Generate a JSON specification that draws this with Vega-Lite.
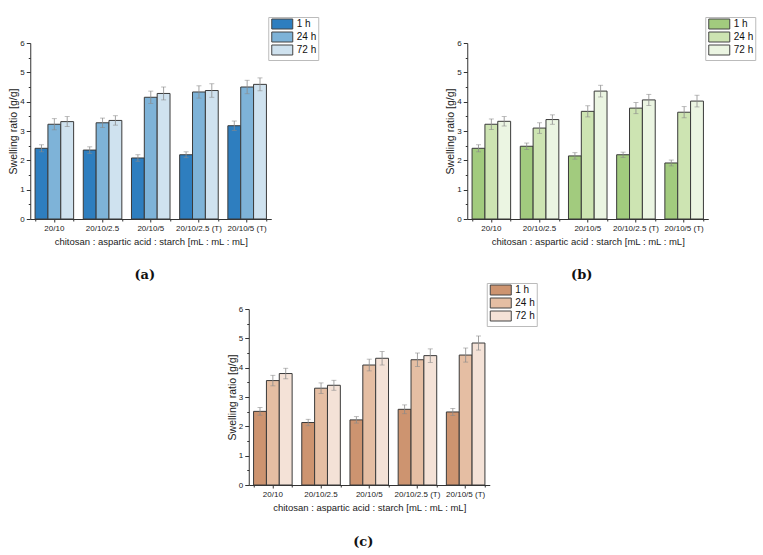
{
  "$schema": "https://vega.github.io/schema/vega-lite/v6.json",
  "padding": {"left": 8, "top": 16, "right": 5, "bottom": 5},
  "datasets": {
    "a": [
      {"ratio": "20/10", "time": "1 h", "value": 2.41, "lo": 2.29, "hi": 2.53},
      {"ratio": "20/10", "time": "24 h", "value": 3.23, "lo": 3.04, "hi": 3.42},
      {"ratio": "20/10", "time": "72 h", "value": 3.32, "lo": 3.15, "hi": 3.49},
      {"ratio": "20/10/2.5", "time": "1 h", "value": 2.35, "lo": 2.24, "hi": 2.46},
      {"ratio": "20/10/2.5", "time": "24 h", "value": 3.28, "lo": 3.12, "hi": 3.44},
      {"ratio": "20/10/2.5", "time": "72 h", "value": 3.36, "lo": 3.2, "hi": 3.52},
      {"ratio": "20/10/5", "time": "1 h", "value": 2.08, "lo": 1.97, "hi": 2.19},
      {"ratio": "20/10/5", "time": "24 h", "value": 4.15, "lo": 3.94, "hi": 4.36},
      {"ratio": "20/10/5", "time": "72 h", "value": 4.28, "lo": 4.06, "hi": 4.5},
      {"ratio": "20/10/2.5 (T)", "time": "1 h", "value": 2.19, "lo": 2.09, "hi": 2.29},
      {"ratio": "20/10/2.5 (T)", "time": "24 h", "value": 4.33, "lo": 4.12, "hi": 4.54},
      {"ratio": "20/10/2.5 (T)", "time": "72 h", "value": 4.38, "lo": 4.15, "hi": 4.61},
      {"ratio": "20/10/5 (T)", "time": "1 h", "value": 3.18, "lo": 3.02, "hi": 3.34},
      {"ratio": "20/10/5 (T)", "time": "24 h", "value": 4.5, "lo": 4.27, "hi": 4.73},
      {"ratio": "20/10/5 (T)", "time": "72 h", "value": 4.59, "lo": 4.37, "hi": 4.81}
    ],
    "b": [
      {"ratio": "20/10", "time": "1 h", "value": 2.41, "lo": 2.29, "hi": 2.53},
      {"ratio": "20/10", "time": "24 h", "value": 3.23, "lo": 3.05, "hi": 3.41},
      {"ratio": "20/10", "time": "72 h", "value": 3.33, "lo": 3.17, "hi": 3.49},
      {"ratio": "20/10/2.5", "time": "1 h", "value": 2.48, "lo": 2.37, "hi": 2.59},
      {"ratio": "20/10/2.5", "time": "24 h", "value": 3.1, "lo": 2.92, "hi": 3.28},
      {"ratio": "20/10/2.5", "time": "72 h", "value": 3.39, "lo": 3.23, "hi": 3.55},
      {"ratio": "20/10/5", "time": "1 h", "value": 2.15, "lo": 2.04, "hi": 2.26},
      {"ratio": "20/10/5", "time": "24 h", "value": 3.67, "lo": 3.48, "hi": 3.86},
      {"ratio": "20/10/5", "time": "72 h", "value": 4.36, "lo": 4.16, "hi": 4.56},
      {"ratio": "20/10/2.5 (T)", "time": "1 h", "value": 2.19, "lo": 2.1, "hi": 2.28},
      {"ratio": "20/10/2.5 (T)", "time": "24 h", "value": 3.78, "lo": 3.59, "hi": 3.97},
      {"ratio": "20/10/2.5 (T)", "time": "72 h", "value": 4.06, "lo": 3.87, "hi": 4.25},
      {"ratio": "20/10/5 (T)", "time": "1 h", "value": 1.91, "lo": 1.81, "hi": 2.01},
      {"ratio": "20/10/5 (T)", "time": "24 h", "value": 3.64, "lo": 3.45, "hi": 3.83},
      {"ratio": "20/10/5 (T)", "time": "72 h", "value": 4.02, "lo": 3.82, "hi": 4.22}
    ],
    "c": [
      {"ratio": "20/10", "time": "1 h", "value": 2.51, "lo": 2.38, "hi": 2.64},
      {"ratio": "20/10", "time": "24 h", "value": 3.56, "lo": 3.38, "hi": 3.74},
      {"ratio": "20/10", "time": "72 h", "value": 3.8, "lo": 3.62, "hi": 3.98},
      {"ratio": "20/10/2.5", "time": "1 h", "value": 2.13, "lo": 2.02, "hi": 2.24},
      {"ratio": "20/10/2.5", "time": "24 h", "value": 3.3, "lo": 3.12, "hi": 3.48},
      {"ratio": "20/10/2.5", "time": "72 h", "value": 3.4, "lo": 3.23, "hi": 3.57},
      {"ratio": "20/10/5", "time": "1 h", "value": 2.22, "lo": 2.11, "hi": 2.33},
      {"ratio": "20/10/5", "time": "24 h", "value": 4.09, "lo": 3.89, "hi": 4.29},
      {"ratio": "20/10/5", "time": "72 h", "value": 4.32, "lo": 4.09, "hi": 4.55},
      {"ratio": "20/10/2.5 (T)", "time": "1 h", "value": 2.58, "lo": 2.43, "hi": 2.73},
      {"ratio": "20/10/2.5 (T)", "time": "24 h", "value": 4.27, "lo": 4.04, "hi": 4.5},
      {"ratio": "20/10/2.5 (T)", "time": "72 h", "value": 4.41, "lo": 4.18, "hi": 4.64},
      {"ratio": "20/10/5 (T)", "time": "1 h", "value": 2.49, "lo": 2.37, "hi": 2.61},
      {"ratio": "20/10/5 (T)", "time": "24 h", "value": 4.43, "lo": 4.19, "hi": 4.67},
      {"ratio": "20/10/5 (T)", "time": "72 h", "value": 4.84, "lo": 4.6, "hi": 5.08}
    ]
  },
  "vconcat": [
    {
      "hconcat": [
        {
          "width": 241, "height": 176,
          "data": {"name": "a"},
          "title": {"text": "(a)", "orient": "bottom", "font": "DejaVu Serif", "fontSize": 13, "fontWeight": "bold", "color": "#111", "dx": -6, "offset": 23},
          "layer": [
            {"mark": {"type": "bar", "stroke": "#3a3a3a", "strokeWidth": 1},
             "encoding": {
               "x": {"field": "ratio", "type": "nominal", "sort": null, "scale": {"paddingInner": 0.2, "paddingOuter": 0.1}, "title": "chitosan : aspartic acid : starch [mL : mL : mL]", "axis": {"orient": "bottom", "labelAngle": 0, "tickSize": 3, "labelPadding": 2, "titlePadding": 4}},
               "xOffset": {"field": "time", "type": "nominal", "sort": null, "scale": {"paddingInner": 0, "paddingOuter": 0}},
               "y": {"field": "value", "type": "quantitative", "scale": {"domain": [0, 6]}, "title": "Swelling ratio [g/g]", "axis": {"orient": "left", "values": [0, 1, 2, 3, 4, 5, 6], "tickSize": 4, "labelPadding": 2, "titlePadding": 1, "titleFontSize": 10.5}},
               "color": {"field": "time", "type": "nominal", "sort": null, "scale": {"domain": ["1 h", "24 h", "72 h"], "range": ["#2e7ebf", "#7eb3d8", "#cfe2ef"]}, "legend": {"orient": "none", "legendX": 238, "legendY": -26, "title": null}}
             }},
            {"mark": {"type": "rule", "color": "#8a8a8a", "strokeWidth": 0.8},
             "encoding": {
               "x": {"field": "ratio", "type": "nominal", "sort": null, "axis": {"orient": "bottom", "tickBand": "extent", "labels": false, "title": null, "domain": false, "tickSize": 2}},
               "xOffset": {"field": "time", "type": "nominal", "sort": null},
               "y": {"field": "lo", "type": "quantitative", "axis": {"orient": "left", "values": [0.5, 1.5, 2.5, 3.5, 4.5, 5.5], "labels": false, "title": null, "domain": false, "tickSize": 2}},
               "y2": {"field": "hi"}
             }},
            {"mark": {"type": "tick", "color": "#8a8a8a", "thickness": 0.8, "size": 5, "orient": "horizontal"},
             "encoding": {
               "x": {"field": "ratio", "type": "nominal", "sort": null, "axis": null},
               "xOffset": {"field": "time", "type": "nominal", "sort": null},
               "y": {"field": "lo", "type": "quantitative", "axis": null}
             }},
            {"mark": {"type": "tick", "color": "#8a8a8a", "thickness": 0.8, "size": 5, "orient": "horizontal"},
             "encoding": {
               "x": {"field": "ratio", "type": "nominal", "sort": null, "axis": null},
               "xOffset": {"field": "time", "type": "nominal", "sort": null},
               "y": {"field": "hi", "type": "quantitative", "axis": null}
             }}
          ],
          "resolve": {"axis": {"x": "independent", "y": "independent"}}
        },
        {
          "width": 241, "height": 176,
          "data": {"name": "b"},
          "title": {"text": "(b)", "orient": "bottom", "font": "DejaVu Serif", "fontSize": 13, "fontWeight": "bold", "color": "#111", "dx": -6, "offset": 23},
          "layer": [
            {"mark": {"type": "bar", "stroke": "#3a3a3a", "strokeWidth": 1},
             "encoding": {
               "x": {"field": "ratio", "type": "nominal", "sort": null, "scale": {"paddingInner": 0.2, "paddingOuter": 0.1}, "title": "chitosan : aspartic acid : starch [mL : mL : mL]", "axis": {"orient": "bottom", "labelAngle": 0, "tickSize": 3, "labelPadding": 2, "titlePadding": 4}},
               "xOffset": {"field": "time", "type": "nominal", "sort": null, "scale": {"paddingInner": 0, "paddingOuter": 0}},
               "y": {"field": "value", "type": "quantitative", "scale": {"domain": [0, 6]}, "title": "Swelling ratio [g/g]", "axis": {"orient": "left", "values": [0, 1, 2, 3, 4, 5, 6], "tickSize": 4, "labelPadding": 2, "titlePadding": 1, "titleFontSize": 10.5}},
               "color": {"field": "time", "type": "nominal", "sort": null, "scale": {"domain": ["1 h", "24 h", "72 h"], "range": ["#a2cb7e", "#cde4b2", "#ebf5e2"]}, "legend": {"orient": "none", "legendX": 238, "legendY": -26, "title": null}}
             }},
            {"mark": {"type": "rule", "color": "#8a8a8a", "strokeWidth": 0.8},
             "encoding": {
               "x": {"field": "ratio", "type": "nominal", "sort": null, "axis": {"orient": "bottom", "tickBand": "extent", "labels": false, "title": null, "domain": false, "tickSize": 2}},
               "xOffset": {"field": "time", "type": "nominal", "sort": null},
               "y": {"field": "lo", "type": "quantitative", "axis": {"orient": "left", "values": [0.5, 1.5, 2.5, 3.5, 4.5, 5.5], "labels": false, "title": null, "domain": false, "tickSize": 2}},
               "y2": {"field": "hi"}
             }},
            {"mark": {"type": "tick", "color": "#8a8a8a", "thickness": 0.8, "size": 5, "orient": "horizontal"},
             "encoding": {
               "x": {"field": "ratio", "type": "nominal", "sort": null, "axis": null},
               "xOffset": {"field": "time", "type": "nominal", "sort": null},
               "y": {"field": "lo", "type": "quantitative", "axis": null}
             }},
            {"mark": {"type": "tick", "color": "#8a8a8a", "thickness": 0.8, "size": 5, "orient": "horizontal"},
             "encoding": {
               "x": {"field": "ratio", "type": "nominal", "sort": null, "axis": null},
               "xOffset": {"field": "time", "type": "nominal", "sort": null},
               "y": {"field": "hi", "type": "quantitative", "axis": null}
             }}
          ],
          "resolve": {"axis": {"x": "independent", "y": "independent"}}
        }
      ],
      "spacing": 196,
      "bounds": "flush",
      "resolve": {"scale": {"color": "independent"}, "legend": {"color": "independent"}}
    },
    {
      "width": 241, "height": 176,
      "data": {"name": "c"},
      "title": {"text": "(c)", "orient": "bottom", "font": "DejaVu Serif", "fontSize": 13, "fontWeight": "bold", "color": "#111", "dx": -6, "offset": 24},
      "layer": [
        {"mark": {"type": "bar", "stroke": "#3a3a3a", "strokeWidth": 1},
         "encoding": {
           "x": {"field": "ratio", "type": "nominal", "sort": null, "scale": {"paddingInner": 0.2, "paddingOuter": 0.1}, "title": "chitosan : aspartic acid : starch [mL : mL : mL]", "axis": {"orient": "bottom", "labelAngle": 0, "tickSize": 3, "labelPadding": 2, "titlePadding": 4}},
           "xOffset": {"field": "time", "type": "nominal", "sort": null, "scale": {"paddingInner": 0, "paddingOuter": 0}},
           "y": {"field": "value", "type": "quantitative", "scale": {"domain": [0, 6]}, "title": "Swelling ratio [g/g]", "axis": {"orient": "left", "values": [0, 1, 2, 3, 4, 5, 6], "tickSize": 4, "labelPadding": 2, "titlePadding": 1, "titleFontSize": 10.5}},
           "color": {"field": "time", "type": "nominal", "sort": null, "scale": {"domain": ["1 h", "24 h", "72 h"], "range": ["#cd9470", "#e5bea3", "#f4e2d7"]}, "legend": {"orient": "none", "legendX": 238, "legendY": -26, "title": null}}
         }},
        {"mark": {"type": "rule", "color": "#8a8a8a", "strokeWidth": 0.8},
         "encoding": {
           "x": {"field": "ratio", "type": "nominal", "sort": null, "axis": {"orient": "bottom", "tickBand": "extent", "labels": false, "title": null, "domain": false, "tickSize": 2}},
           "xOffset": {"field": "time", "type": "nominal", "sort": null},
           "y": {"field": "lo", "type": "quantitative", "axis": {"orient": "left", "values": [0.5, 1.5, 2.5, 3.5, 4.5, 5.5], "labels": false, "title": null, "domain": false, "tickSize": 2}},
           "y2": {"field": "hi"}
         }},
        {"mark": {"type": "tick", "color": "#8a8a8a", "thickness": 0.8, "size": 5, "orient": "horizontal"},
         "encoding": {
           "x": {"field": "ratio", "type": "nominal", "sort": null, "axis": null},
           "xOffset": {"field": "time", "type": "nominal", "sort": null},
           "y": {"field": "lo", "type": "quantitative", "axis": null}
         }},
        {"mark": {"type": "tick", "color": "#8a8a8a", "thickness": 0.8, "size": 5, "orient": "horizontal"},
         "encoding": {
           "x": {"field": "ratio", "type": "nominal", "sort": null, "axis": null},
           "xOffset": {"field": "time", "type": "nominal", "sort": null},
           "y": {"field": "hi", "type": "quantitative", "axis": null}
         }}
      ],
      "resolve": {"axis": {"x": "independent", "y": "independent"}}
    }
  ],
  "spacing": 0,
  "center": true,
  "resolve": {"scale": {"color": "independent"}, "legend": {"color": "independent"}},
  "config": {
    "view": {"stroke": null},
    "font": "Liberation Sans",
    "axis": {"domainColor": "#333", "tickColor": "#333", "labelColor": "#222", "titleColor": "#222", "labelFontSize": 8, "titleFontSize": 9.5, "titleFontWeight": "normal", "grid": false, "labelFont": "Liberation Sans", "titleFont": "Liberation Sans"},
    "legend": {"labelFontSize": 10, "labelFont": "Liberation Sans", "labelColor": "#111", "strokeColor": "#bbb", "fillColor": "#fff", "padding": 2, "symbolType": "M-1.1667,-1.6667H5.8333V1.6667H-1.1667Z", "symbolSize": 36, "symbolStrokeColor": "#444", "symbolStrokeWidth": 1, "symbolOpacity": 1, "labelOffset": 16.5, "rowPadding": -4.3}
  }
}
